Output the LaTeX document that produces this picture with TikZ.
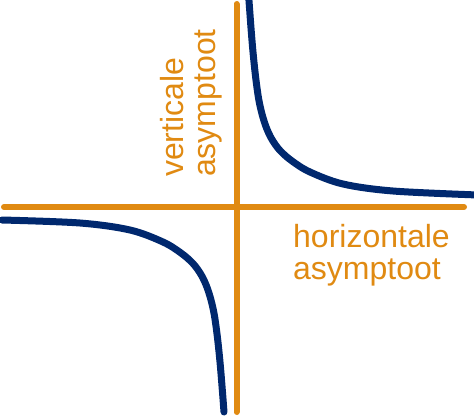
\documentclass[tikz,border=0pt]{standalone}
\usepackage{fontspec}
\setmainfont{Liberation Sans}
\definecolor{asyorange}{RGB}{224,138,18}
\definecolor{curveblue}{RGB}{0,40,110}
\tikzset{
  asymline/.style={draw=asyorange, line width=6pt, line cap=round},
  branch/.style={draw=curveblue, line width=7pt, line cap=round},
  lbl/.style={text=asyorange, font=\fontsize{32}{32}\selectfont, inner sep=0pt, align=left}
}
\begin{document}
\begin{tikzpicture}[x=1pt,y=-1pt]
\useasboundingbox (0,0) rectangle (474,416);
% asymptotes
\coordinate (vtop) at (236.5,4);
\coordinate (vbot) at (236.5,412);
\coordinate (hleft) at (4,207);
\coordinate (hright) at (464,207);
\draw[asymline] (vtop) -- (vbot);
\draw[asymline] (hleft) -- (hright);
% right branch
\draw[branch] plot[smooth, tension=0.55] coordinates {(248.8,-2) (251,28) (253,52) (255.5,76) (258.5,98) (262,114) (266.5,128) (272,139.5) (280,150.5) (292,161) (310,172) (343,184) (393,191) (478,195)};
% left branch (point reflection about the centre)
\begin{scope}[shift={(236.5,207)}, rotate=180, shift={(-236.5,-207)}]
\draw[branch] plot[smooth, tension=0.55] coordinates {(249,2) (251,28) (253,52) (255.5,76) (258.5,98) (262,114) (266.5,128) (272,139.5) (280,150.5) (292,161) (310,172) (343,184) (393,191) (471,194)};
\end{scope}
% labels
\node[lbl, anchor=north west] (hlab) at (293,224) {horizontale\\asymptoot};
\node[lbl, anchor=north west, rotate=90] (vlab) at (160,177) {verticale\\asymptoot};
\end{tikzpicture}
\end{document}
